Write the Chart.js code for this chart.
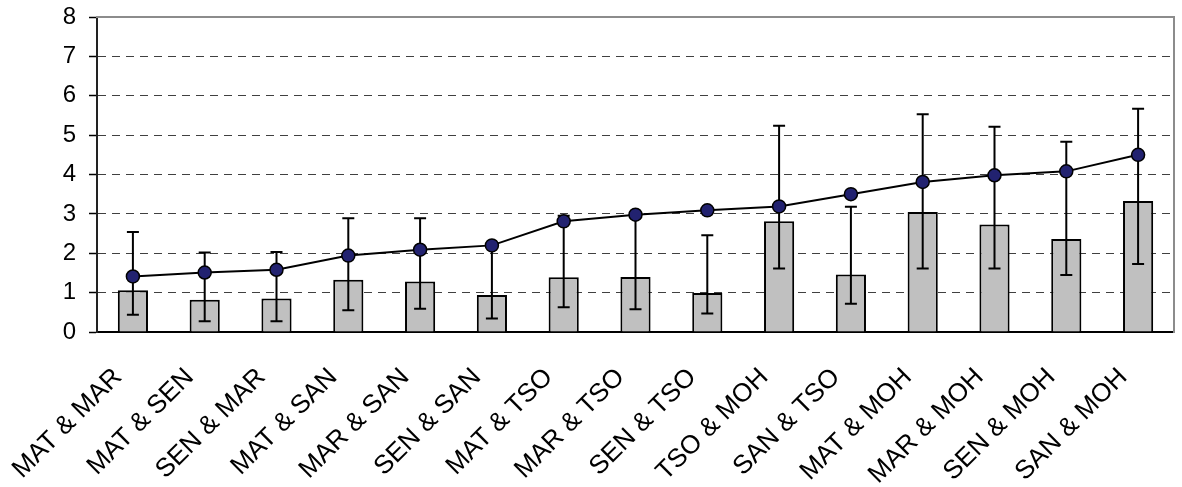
<!DOCTYPE html>
<html><head><meta charset="utf-8">
<script src="https://cdn.jsdelivr.net/npm/chart.js@4/dist/chart.umd.min.js"></script>
<style>html,body{margin:0;padding:0;background:#fff;}</style>
</head><body>
<canvas id="c" width="1182" height="487"></canvas>
<script>
const categories = ["MAT & MAR","MAT & SEN","SEN & MAR","MAT & SAN","MAR & SAN","SEN & SAN","MAT & TSO","MAR & TSO","SEN & TSO","TSO & MOH","SAN & TSO","MAT & MOH","MAR & MOH","SEN & MOH","SAN & MOH"];
const barValues  = [1.06,0.82,0.85,1.33,1.28,0.94,1.39,1.40,0.99,2.81,1.46,3.05,2.73,2.36,3.33];
const lineValues = [1.41,1.51,1.58,1.94,2.09,2.20,2.81,2.98,3.09,3.19,3.50,3.81,3.98,4.08,4.50];
const errLow  = [0.44,0.27,0.27,0.55,0.59,0.34,0.63,0.58,0.47,1.61,0.72,1.61,1.61,1.45,1.73];
const errHigh = [2.54,2.02,2.03,2.89,2.89,2.20,2.95,2.98,2.46,5.24,3.18,5.53,5.21,4.83,5.67];
const yMin = 0, yMax = 8, yStep = 1;

const FONT = "'Liberation Sans', Arial, sans-serif";

const errorBars = {
  id: 'errorBars',
  afterDatasetDraw(chart, args) {
    if (args.index !== 0) return;
    const ctx = chart.ctx, xs = chart.scales.x, ys = chart.scales.y;
    ctx.save();
    ctx.strokeStyle = '#000';
    ctx.lineWidth = 2;
    const cap = 6;
    for (let i = 0; i < categories.length; i++) {
      const px = xs.getPixelForValue(i);
      const lo = ys.getPixelForValue(errLow[i]);
      const hi = ys.getPixelForValue(errHigh[i]);
      ctx.beginPath();
      ctx.moveTo(px, lo); ctx.lineTo(px, hi);
      ctx.moveTo(px - cap, lo); ctx.lineTo(px + cap, lo);
      ctx.moveTo(px - cap, hi); ctx.lineTo(px + cap, hi);
      ctx.stroke();
    }
    ctx.restore();
  }
};

const noPad = s => { s.paddingLeft = 0; s.paddingRight = 0; s.paddingTop = 0; s.paddingBottom = 0; };

new Chart(document.getElementById('c'), {
  type: 'bar',
  data: {
    labels: categories,
    datasets: [
      {
        type: 'bar', data: barValues, xAxisID: 'x', yAxisID: 'y', order: 1,
        backgroundColor: '#c0c0c0', borderColor: '#000', borderWidth: 2,
        barPercentage: 0.42, categoryPercentage: 1
      },
      {
        type: 'line', data: lineValues, xAxisID: 'x', yAxisID: 'y', order: 0,
        borderColor: '#000', borderWidth: 2, tension: 0, fill: false,
        pointRadius: 6.5, pointBackgroundColor: '#222270', pointBorderColor: '#000', pointBorderWidth: 1.5
      }
    ]
  },
  options: {
    responsive: false,
    devicePixelRatio: 1,
    animation: false,
    layout: { padding: { top: 17, right: 1, left: 0, bottom: 0 } },
    plugins: { legend: { display: false }, tooltip: { enabled: false } },
    scales: {
      x: {
        type: 'category', position: 'bottom', offset: true,
        grid: { display: false, drawTicks: false },
        border: { display: true, color: '#000', width: 2 },
        ticks: { autoSkip: false, minRotation: 45, maxRotation: 45, color: '#000', padding: 30, labelOffset: -15,
                 font: { family: FONT, size: 26 } },
        afterFit: s => { s.height = 155; noPad(s); }
      },
      y: {
        type: 'linear', position: 'left', min: yMin, max: yMax,
        grid: {
          color: c => (c.tick && c.tick.value === yMax) ? 'rgba(0,0,0,0)' : '#404040',
          lineWidth: 1, drawTicks: true, tickLength: 8, tickColor: '#000', tickWidth: 1.5
        },
        border: { display: true, color: '#222', width: 2, dash: [8, 6] },
        ticks: { stepSize: yStep, padding: 13, color: '#000', font: { family: FONT, size: 24 } },
        afterFit: s => { s.width = 97; noPad(s); }
      },
      x2: {
        type: 'category', position: 'top', display: true,
        grid: { display: false, drawTicks: false },
        ticks: { display: false },
        border: { display: true, color: '#8c8c8c', width: 2 },
        afterFit: s => { s.height = 0; noPad(s); }
      },
      y2: {
        type: 'linear', position: 'right', display: true,
        grid: { display: false, drawTicks: false },
        ticks: { display: false },
        border: { display: true, color: '#8c8c8c', width: 2 },
        afterFit: s => { s.width = 0; noPad(s); }
      }
    }
  },
  plugins: [errorBars]
});
</script>
</body></html>
